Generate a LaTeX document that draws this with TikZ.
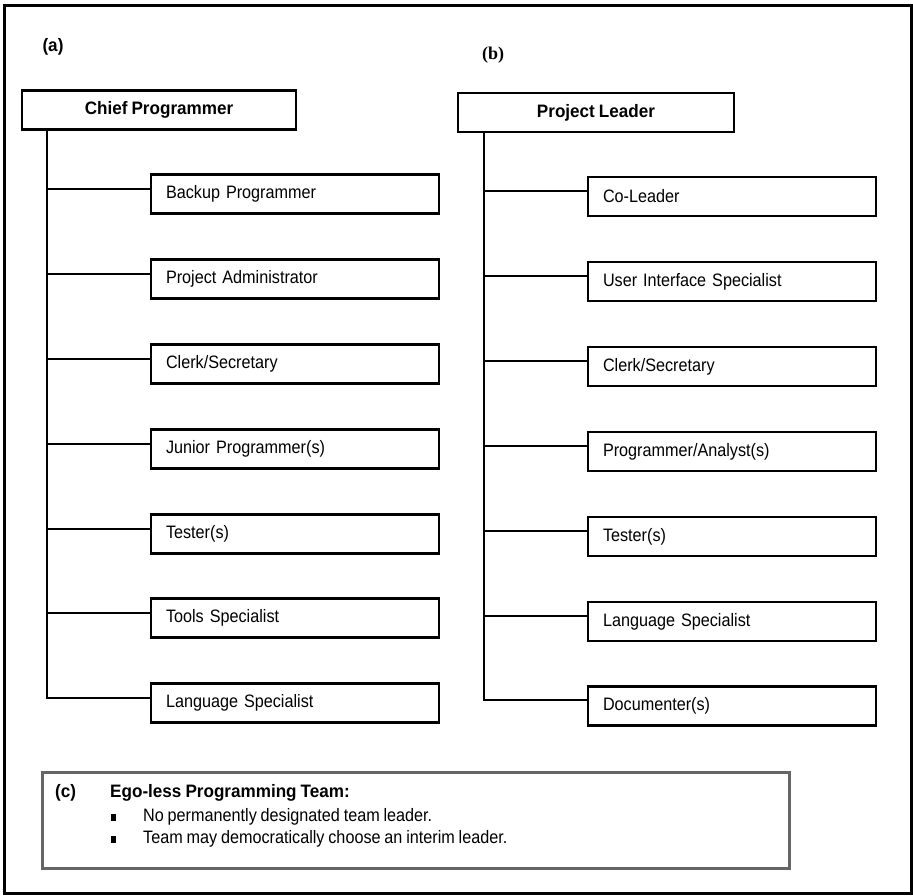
\documentclass[tikz,border=0pt]{standalone}
\usepackage{fontspec}
\setmainfont{Liberation Sans}[FakeStretch=0.9,WordSpace=0.85,BoldFeatures={FakeStretch=0.95}]
\newfontfamily\serifbold{Liberation Serif}
\usetikzlibrary{shapes}

\begin{document}
\begin{tikzpicture}[x=1pt, y=-1pt,
		every node/.style={font=\fontsize{18}{21.6}\selectfont},
		head/.style={rectangle, draw, line width=2.5pt, minimum height=39pt, font=\fontsize{18}{21.6}\selectfont\bfseries},
		role/.style={rectangle, draw, line width=2.5pt, minimum height=39pt, text width=258pt, inner xsep=15pt, align=left},
		txt/.style={anchor=west, inner sep=0pt, text height=13pt, text depth=4pt},
		dot/.style={rectangle, fill=black, inner sep=0pt, minimum width=5pt, minimum height=7pt},
		link/.style={line width=2pt}]
		\useasboundingbox (0, 0) rectangle (913, 895);
		\draw [line width=3pt] (4, 5) rectangle (911, 893);
		% (a)
		\path (53, 47) node(la) [font=\fontsize{18}{21.6}\selectfont\bfseries] {(a)};
		\path (159, 110) node(cp) [head, minimum width=274pt] {Chief Programmer};
		\path (295, 194) node(bp) [role] {Backup Programmer};
		\path (295, 279) node(pa) [role] {Project Administrator};
		\path (295, 364) node(cs) [role] {Clerk/Secretary};
		\path (295, 449) node(jp) [role] {Junior Programmer(s)};
		\path (295, 534) node(ts) [role] {Tester(s)};
		\path (295, 618) node(tl) [role] {Tools Specialist};
		\path (295, 703) node(ls) [role] {Language Specialist};
		\coordinate (ta) at (47, 0);
		\draw [link] (cp.south -| ta) |- ([yshift=5pt]bp.west);
		\draw [link] (cp.south -| ta) |- ([yshift=5pt]pa.west);
		\draw [link] (cp.south -| ta) |- ([yshift=5pt]cs.west);
		\draw [link] (cp.south -| ta) |- ([yshift=5pt]jp.west);
		\draw [link] (cp.south -| ta) |- ([yshift=5pt]ts.west);
		\draw [link] (cp.south -| ta) |- ([yshift=5pt]tl.west);
		\draw [link] (cp.south -| ta) |- ([yshift=5pt]ls.west);
		% (b)
		\path (493, 55) node(lb) [font=\fontsize{18}{21.6}\selectfont\serifbold\bfseries] {(b)};
		\path (596, 112.5) node(pl) [head, minimum width=276pt] {Project Leader};
		\path (732, 196.5) node(co) [role] {Co-Leader};
		\path (732, 281.5) node(ui) [role] {User Interface Specialist};
		\path (732, 366.5) node(cs2) [role] {Clerk/Secretary};
		\path (732, 451.5) node(pr) [role] {Programmer/Analyst(s)};
		\path (732, 536.5) node(ts2) [role] {Tester(s)};
		\path (732, 621.5) node(ls2) [role] {Language Specialist};
		\path (732, 706) node(dc) [role] {Documenter(s)};
		\coordinate (tb) at (484, 0);
		\draw [link] (pl.south -| tb) |- ([yshift=6pt]co.west);
		\draw [link] (pl.south -| tb) |- ([yshift=6pt]ui.west);
		\draw [link] (pl.south -| tb) |- ([yshift=6pt]cs2.west);
		\draw [link] (pl.south -| tb) |- ([yshift=6pt]pr.west);
		\draw [link] (pl.south -| tb) |- ([yshift=6pt]ts2.west);
		\draw [link] (pl.south -| tb) |- ([yshift=6pt]ls2.west);
		\draw [link] (pl.south -| tb) |- ([yshift=6pt]dc.west);
		% (c)
		\draw [line width=3pt, draw=black!60] (42, 772) rectangle (789, 868);
		\path (55, 793) node(lc) [txt, font=\fontsize{18}{21.6}\selectfont\bfseries] {(c)};
		\path (110, 793) node(eg) [txt, font=\fontsize{18}{21.6}\selectfont\bfseries] {Ego-less Programming Team:};
		\path (113.5, 817) node(b1) [dot] {};
		\path (143, 817) node(t1) [txt] {No permanently designated team leader.};
		\path (113.5, 839) node(b2) [dot] {};
		\path (143, 839) node(t2) [txt] {Team may democratically choose an interim leader.};
	\end{tikzpicture}
\end{document}
